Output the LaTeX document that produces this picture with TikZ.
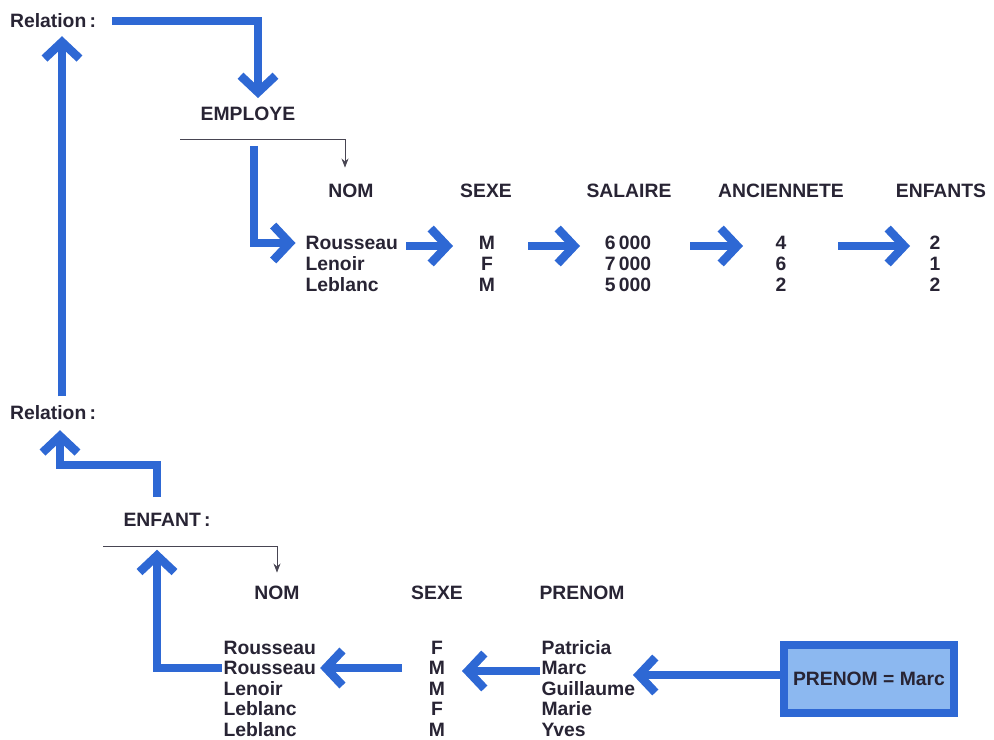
\documentclass[tikz,border=0pt]{standalone}
\usepackage{fontspec}
\setmainfont{Liberation Sans}
\usetikzlibrary{arrows.meta}
\definecolor{relblue}{RGB}{46,104,212}
\definecolor{relfill}{RGB}{140,184,240}
\definecolor{relink}{RGB}{40,36,52}
\tikzset{
	txt/.style={font=\bfseries\fontsize{11}{13}\selectfont, text=relink, inner sep=1pt},
	bluearrow/.style={draw=relblue, line width=1.7mm, line join=miter,
		-{Straight Barb[length=3.3mm,width=7mm,sharp]}},
	thinarrow/.style={draw=relink!85, line width=0.5pt, -{Stealth[length=1.8mm,width=1.4mm]}},
	critbox/.style={txt, draw=relblue, fill=relfill, line width=1.6mm,
		minimum width=34mm, minimum height=13.6mm}
}

\begin{document}
\begin{tikzpicture}[x=0.2mm,y=-0.2mm]
	\useasboundingbox (0,0) rectangle (994,740);
	% relation EMPLOYE
	\node at (8,21) [txt,anchor=west] (rel1) {Relation\,:};
	\node at (248,114) [txt] (employe) {EMPLOYE};
	\node at (351,191) [txt] (enomh) {NOM};
	\node at (486,191) [txt] (esexh) {SEXE};
	\node at (629,191) [txt] (esalh) {SALAIRE};
	\node at (781,191) [txt] (eanch) {ANCIENNETE};
	\node at (941,191) [txt] (eenfh) {ENFANTS};
	\foreach \n/\s/\sal/\anc/\enf [count=\i] in {Rousseau/M/6\thinspace000/4/2,
		Lenoir/F/7\thinspace000/6/1, Leblanc/M/5\thinspace000/2/2}{
		\node at (303.5,222+21*\i) [txt,anchor=west] (enom\i) {\n};
		\node at (487,222+21*\i) [txt] (esex\i) {\s};
		\node at (628,222+21*\i) [txt] (esal\i) {\sal};
		\node at (781,222+21*\i) [txt] (eanc\i) {\anc};
		\node at (935,222+21*\i) [txt] (eenf\i) {\enf};
	}
	\coordinate (ebar) at (180,139);
	\draw[thinarrow] (ebar) -| ([xshift=-1.2mm,yshift=2.9mm]enomh.north);
	\draw[bluearrow] ([xshift=2.8mm]rel1.east) -| ([xshift=2mm,yshift=1.4mm]employe.north);
	\draw[bluearrow] ([xshift=1.2mm,yshift=-4.6mm]employe.south) |- ([xshift=-1.6mm]enom1.west);
	\draw[bluearrow] ([xshift=1.2mm,yshift=-0.6mm]enom1.east) -- ([xshift=-6.8mm,yshift=-0.6mm]esex1.center);
	\draw[bluearrow] ([xshift=8.2mm,yshift=-0.6mm]esex1.center) -- ([xshift=-9.6mm,yshift=-0.6mm]esal1.center);
	\draw[bluearrow] ([xshift=12.4mm,yshift=-0.6mm]esal1.center) -- ([xshift=-7.6mm,yshift=-0.6mm]eanc1.center);
	\draw[bluearrow] ([xshift=11.4mm,yshift=-0.6mm]eanc1.center) -- ([xshift=-5mm,yshift=-0.6mm]eenf1.center);
	% relation ENFANT
	\node at (8,413) [txt,anchor=west] (rel2) {Relation\,:};
	\node at (167,520) [txt] (enfant) {ENFANT\,:};
	\node at (277,593) [txt] (cnomh) {NOM};
	\node at (437,593) [txt] (csexh) {SEXE};
	\node at (582,593) [txt] (cpreh) {PRENOM};
	\foreach \n/\s/\p [count=\i] in {Rousseau/F/Patricia, Rousseau/M/Marc,
		Lenoir/M/Guillaume, Leblanc/F/Marie, Leblanc/M/Yves}{
		\node at (221.5,627+20.5*\i) [txt,anchor=west] (cnom\i) {\n};
		\node at (437,627+20.5*\i) [txt] (csex\i) {\s};
		\node at (539.5,627+20.5*\i) [txt,anchor=west] (cpre\i) {\p};
	}
	\node at (869,679) [critbox] (crit) {PRENOM = Marc};
	\coordinate (critend) at (633,675);
	\coordinate (cbar) at (103,546);
	\draw[thinarrow] (cbar) -| ([yshift=2.3mm]cnomh.north);
	\draw[bluearrow] (crit.west |- critend) -- (critend);
	\draw[bluearrow] ([yshift=-0.6mm]cpre2.west) -- ([xshift=5mm,yshift=-0.6mm]csex2.center);
	\draw[bluearrow] ([xshift=-7mm]csex2.center) -- ([xshift=0.4mm]cnom2.east);
	\draw[bluearrow] (cnom2.west) -| ([xshift=-2mm,yshift=-4.2mm]enfant.south);
	\draw[bluearrow] ([xshift=-2mm,yshift=2.8mm]enfant.north) -- ++(0,-32)
		-| ([xshift=10.4mm,yshift=-1.6mm]rel2.south west);
	\draw[bluearrow] ([xshift=10.8mm,yshift=1.5mm]rel2.north west)
		-- ([xshift=10.8mm,yshift=-1.2mm]rel1.south west);
\end{tikzpicture}
\end{document}
